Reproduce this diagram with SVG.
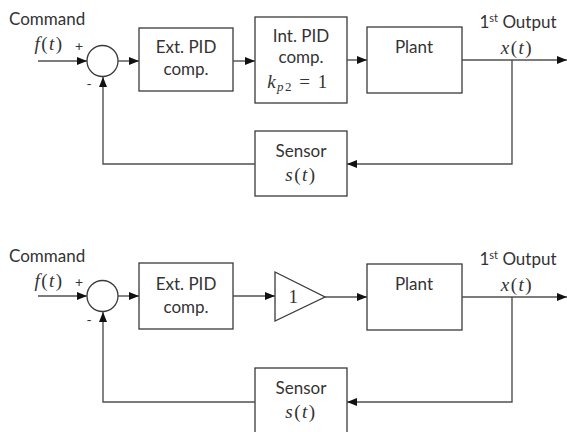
<svg xmlns="http://www.w3.org/2000/svg" width="567" height="432" viewBox="0 0 567 432">
<style>
.box{fill:#fff;stroke:#3a3a3a;stroke-width:1.3}
.ln{fill:none;stroke:#505050;stroke-width:1.4}
.lbl{font-family:Lato,"Open Sans",sans-serif;font-size:17px;fill:#333;text-anchor:middle}
.st{text-anchor:start}
.sg{font-family:Lato,sans-serif;font-size:14px;fill:#333;text-anchor:middle}
.m{font-family:"Liberation Serif",serif;font-size:19px;fill:#333;text-anchor:middle;letter-spacing:1.5px}
.mi{font-style:italic}
</style>
<defs>
<marker id="ah" viewBox="0 0 10 8" refX="10" refY="4" markerWidth="10" markerHeight="8" markerUnits="userSpaceOnUse" orient="auto">
<path d="M0,0L10,4L0,8Z" fill="#111"/>
</marker>
</defs>
<rect width="567" height="432" fill="#fff"/>

<g id="top">
<g id="t-cmd"><text class="lbl st" x="9" y="25">Command</text>
<text class="m" x="49" y="50"><tspan class="mi">f</tspan>(<tspan class="mi">t</tspan>)</text></g>
<g id="t-sum"><circle class="box" cx="102.5" cy="61" r="15.5"/>
<text class="sg" x="79" y="51">+</text><text class="sg" x="89" y="89">-</text></g>
<g id="t-ext"><rect class="box" x="139" y="28" width="94" height="63"/>
<text class="lbl" x="186" y="53">Ext. PID</text><text class="lbl" x="186" y="75">comp.</text></g>
<g id="t-int"><rect class="box" x="255" y="17" width="92" height="86"/>
<text class="lbl" x="301" y="42">Int. PID</text><text class="lbl" x="301" y="63">comp.</text>
<text class="m" x="298" y="88"><tspan class="mi">k</tspan><tspan class="mi" font-size="13" dy="3">p</tspan><tspan font-size="13">2</tspan><tspan dy="-3"> = 1</tspan></text></g>
<g id="t-plant"><rect class="box" x="367" y="27" width="95" height="66"/>
<text class="lbl" x="414" y="53">Plant</text></g>
<g id="t-out"><text class="lbl" x="518" y="28">1<tspan font-size="11" dy="-6">st</tspan><tspan dy="6"> Output</tspan></text>
<text class="m" x="517" y="54"><tspan class="mi">x</tspan>(<tspan class="mi">t</tspan>)</text></g>
<g id="t-sensor"><rect class="box" x="255" y="131" width="92" height="65"/>
<text class="lbl" x="301" y="157">Sensor</text>
<text class="m" x="301" y="181"><tspan class="mi">s</tspan>(<tspan class="mi">t</tspan>)</text></g>
<g id="t-conn">
<line class="ln" x1="38" y1="61" x2="87" y2="61" marker-end="url(#ah)"/>
<line class="ln" x1="118" y1="61" x2="139" y2="61" marker-end="url(#ah)"/>
<line class="ln" x1="233" y1="61" x2="255" y2="61" marker-end="url(#ah)"/>
<line class="ln" x1="347" y1="60" x2="367" y2="60" marker-end="url(#ah)"/>
<line class="ln" x1="462" y1="60" x2="567" y2="60" marker-end="url(#ah)"/>
<polyline class="ln" points="512,60 512,164 347,164" marker-end="url(#ah)"/>
<polyline class="ln" points="255,164 103,164 103,77" marker-end="url(#ah)"/>
</g>
</g>

<g id="bottom">
<g id="b-cmd"><text class="lbl st" x="9" y="262">Command</text>
<text class="m" x="49" y="287"><tspan class="mi">f</tspan>(<tspan class="mi">t</tspan>)</text></g>
<g id="b-sum"><circle class="box" cx="102.5" cy="296" r="15.5"/>
<text class="sg" x="79" y="287">+</text><text class="sg" x="89" y="325">-</text></g>
<g id="b-ext"><rect class="box" x="139" y="263" width="94" height="66"/>
<text class="lbl" x="186" y="290">Ext. PID</text><text class="lbl" x="186" y="313">comp.</text></g>
<g id="b-gain"><polygon class="box" points="275,272 325,297 275,321"/>
<text class="m" x="294" y="303">1</text></g>
<g id="b-plant"><rect class="box" x="367" y="264" width="95" height="66"/>
<text class="lbl" x="414" y="290">Plant</text></g>
<g id="b-out"><text class="lbl" x="518" y="265">1<tspan font-size="11" dy="-6">st</tspan><tspan dy="6"> Output</tspan></text>
<text class="m" x="517" y="291"><tspan class="mi">x</tspan>(<tspan class="mi">t</tspan>)</text></g>
<g id="b-sensor"><rect class="box" x="255" y="368" width="92" height="70"/>
<text class="lbl" x="301" y="394">Sensor</text>
<text class="m" x="301" y="418"><tspan class="mi">s</tspan>(<tspan class="mi">t</tspan>)</text></g>
<g id="b-conn">
<line class="ln" x1="38" y1="296" x2="87" y2="296" marker-end="url(#ah)"/>
<line class="ln" x1="118" y1="296" x2="139" y2="296" marker-end="url(#ah)"/>
<line class="ln" x1="233" y1="296" x2="275" y2="296" marker-end="url(#ah)"/>
<line class="ln" x1="325" y1="297" x2="367" y2="297" marker-end="url(#ah)"/>
<line class="ln" x1="462" y1="297" x2="567" y2="297" marker-end="url(#ah)"/>
<polyline class="ln" points="512,297 512,402 347,402" marker-end="url(#ah)"/>
<polyline class="ln" points="255,402 103,402 103,312" marker-end="url(#ah)"/>
</g>
</g>
</svg>
